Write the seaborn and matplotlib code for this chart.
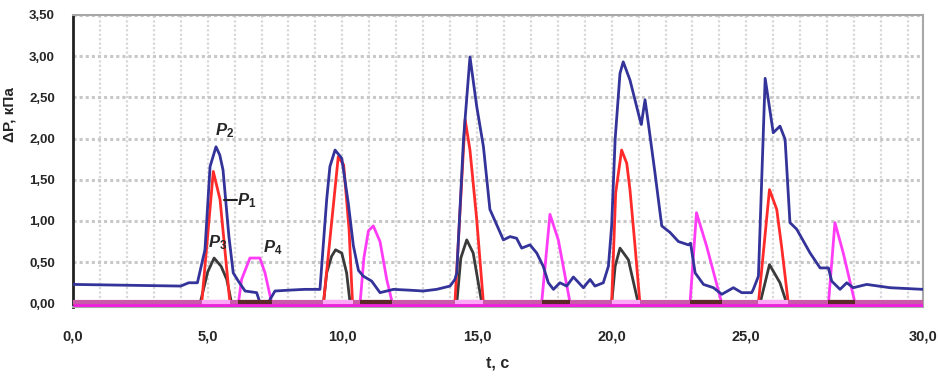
import numpy as np
import pandas as pd
import seaborn as sns
import matplotlib.pyplot as plt
from matplotlib.ticker import FuncFormatter

# time axis end (the last category, labelled "30,0" in the source chart)
XMAX = 31.56

# P2 - blue
t_p2 = [0, 2.0, 4.0, 4.3, 4.62, 4.9, 5.09, 5.31, 5.45, 5.57, 5.79, 5.95, 6.14, 6.39, 6.82, 6.94,
        7.25, 7.5, 8.0, 8.6, 9.17, 9.42, 9.54, 9.73, 9.98, 10.22, 10.41, 10.6, 10.78, 11.09, 11.4,
        11.9, 12.5, 13.0, 13.5, 14.0, 14.18, 14.25, 14.5, 14.74, 14.99, 15.24, 15.48, 15.67,
        15.98, 16.23, 16.47, 16.66, 16.97, 17.22, 17.46, 17.65, 17.84, 18.08, 18.33, 18.58,
        18.95, 19.2, 19.38, 19.69, 19.88, 20.0, 20.13, 20.31, 20.43, 20.68, 21.05, 21.1, 21.24,
        21.36, 21.61, 21.86, 22.17, 22.48, 22.85, 22.93, 23.1, 23.41, 23.78, 24.09, 24.52,
        24.83, 25.2, 25.26, 25.45, 25.7, 26.0, 26.25, 26.44, 26.62, 26.87, 27.37, 27.74,
        28.05, 28.17, 28.48, 28.73, 28.97, 29.47, 30.34, XMAX]
v_p2 = [0.23, 0.22, 0.21, 0.25, 0.25, 0.65, 1.66, 1.90, 1.80, 1.62, 0.81, 0.37, 0.27, 0.15, 0.13, 0.01,
        0.01, 0.15, 0.16, 0.17, 0.17, 1.26, 1.66, 1.86, 1.76, 1.22, 0.70, 0.40, 0.33, 0.27, 0.13,
        0.17, 0.16, 0.15, 0.17, 0.21, 0.29, 0.37, 1.99, 2.99, 2.39, 1.90, 1.14, 1.00,
        0.77, 0.81, 0.79, 0.67, 0.71, 0.61, 0.45, 0.25, 0.17, 0.25, 0.21, 0.32,
        0.19, 0.29, 0.21, 0.25, 0.45, 0.94, 1.99, 2.79, 2.93, 2.71, 2.23, 2.17, 2.47,
        2.19, 1.58, 0.94, 0.86, 0.75, 0.71, 0.73, 0.37, 0.23, 0.19, 0.11, 0.19,
        0.13, 0.13, 0.17, 0.33, 2.73, 2.07, 2.15, 1.99, 0.98, 0.90, 0.61, 0.43,
        0.43, 0.27, 0.17, 0.25, 0.19, 0.23, 0.19, 0.17]

# P1 - red
t_p1 = [0, 4.78, 5.21, 5.46, 5.64, 5.83, 9.3, 9.85, 10.05, 10.25, 10.38, 14.18, 14.56, 14.74,
        14.99, 15.24, 20.0, 20.15, 20.37, 20.56, 20.68, 20.87, 21.05, 25.45, 25.86, 26.13, 26.31,
        26.56, XMAX]
v_p1 = [0, 0, 1.60, 1.26, 0.65, 0, 0, 1.78, 1.68, 0.90, 0, 0, 2.23, 1.86,
        1.02, 0, 0, 1.34, 1.86, 1.70, 1.38, 0.69, 0, 0, 1.38, 1.14, 0.69,
        0, 0]

# P3 - black
t_p3 = [0, 4.72, 5.0, 5.24, 5.5, 5.71, 5.89, 9.3, 9.42, 9.6, 9.75, 9.98, 10.16, 10.29, 14.25,
        14.4, 14.62, 14.86, 15.18, 20.0, 20.13, 20.31, 20.62, 20.99, 25.51, 25.86, 26.25, 26.5,
        XMAX]
v_p3 = [0, 0, 0.38, 0.55, 0.45, 0.29, 0, 0, 0.37, 0.57, 0.65, 0.61, 0.37, 0, 0,
        0.55, 0.77, 0.61, 0, 0, 0.45, 0.67, 0.53, 0, 0, 0.47, 0.25, 0,
        0]

# P4 - magenta
t_p4 = [0, 6.14, 6.26, 6.57, 6.94, 7.13, 7.38, 10.66, 10.8, 10.97, 11.15, 11.4, 11.65, 11.86,
        17.4, 17.71, 18.02, 18.46, 22.91, 23.15, 23.53, 24.09, 28.05, 28.29, 28.6, 29.04, XMAX]
v_p4 = [0, 0, 0.29, 0.55, 0.55, 0.37, 0, 0, 0.55, 0.88, 0.94, 0.75, 0.29, 0,
        0, 1.08, 0.77, 0, 0, 1.10, 0.69, 0, 0, 0.98, 0.61, 0, 0]

x_ticks = [0, 5, 10, 15, 20, 25, XMAX]
x_labels = ["0,0", "5,0", "10,0", "15,0", "20,0", "25,0", "30,0"]


def spans(t, v):
    # stretches where a series leaves zero
    out = []
    i = 0
    while i < len(v):
        if v[i] > 0:
            j = i
            while j < len(v) and v[j] > 0:
                j += 1
            out.append((t[i - 1], t[j]))
            i = j
        else:
            i += 1
    return out


sns.set_style("white")
plt.rcParams['font.family'] = ['Liberation Sans', 'DejaVu Sans']
plt.rcParams['mathtext.fontset'] = 'custom'
plt.rcParams['mathtext.it'] = 'Liberation Sans:italic:bold'
plt.rcParams['mathtext.rm'] = 'Liberation Sans:bold'

fig, ax = plt.subplots(figsize=(9.38, 3.81), dpi=100)
fig.subplots_adjust(left=0.0778, right=0.984, top=0.961, bottom=0.194)

series = [(t_p4, v_p4, '#ff3cf5'), (t_p3, v_p3, '#3a3a3a'),
          (t_p1, v_p1, '#ff2a2a'), (t_p2, v_p2, '#33339a')]
for t, v, c in series:
    df = pd.DataFrame({'t': t, 'v': v})
    sns.lineplot(data=df, x='t', y='v', ax=ax, color=c, lw=2.0,
                 sort=False, estimator=None, zorder=3)

# zero band along the time axis
ax.hlines(-0.02, 0, XMAX, color='#ee22dd', lw=3.4, zorder=4)
ax.hlines(0.022, 0, XMAX, color='#c85aa8', lw=3.0, zorder=4)
for a, b in spans(t_p1, v_p1):
    ax.hlines(0.022, a, b, color='#ffa8f8', lw=3.0, zorder=5)
for a, b in spans(t_p4, v_p4):
    ax.hlines(0.022, a, b, color='#5c2a28', lw=3.0, zorder=5)

ax.set_xlim(0, XMAX)
ax.set_ylim(-0.045, 3.5)

ax.set_yticks(np.arange(0, 3.51, 0.5))
ax.yaxis.set_major_formatter(FuncFormatter(lambda y, p: f"{y:.2f}".replace('.', ',')))
ax.set_xticks(x_ticks)
ax.set_xticklabels(x_labels)
ax.set_xticks(np.arange(1, 32), minor=True)

ax.yaxis.grid(True, color='#c8c8c8', lw=2.2, ls=(0, (1, 1)))
ax.xaxis.grid(True, which='both', color='#d8d8d8', lw=1.6, ls=(0, (1, 1)))
ax.set_axisbelow(True)

ax.tick_params(axis='y', direction='out', length=4, width=1.5, color='#222222',
               labelsize=9.5, pad=9)
ax.tick_params(axis='x', which='major', direction='out', length=6, width=1.2,
               color='#8a9a8a', labelsize=10.5, pad=10)
ax.tick_params(axis='x', which='minor', length=0)
for lab in ax.get_xticklabels() + ax.get_yticklabels():
    lab.set_fontweight('bold')

ax.spines['left'].set_color('#222222')
ax.spines['left'].set_linewidth(2)
for s in ['top', 'right', 'bottom']:
    ax.spines[s].set_color('#a8a8a8')
    ax.spines[s].set_linewidth(1.5)

ax.set_xlabel('t, с', fontsize=11.5, fontweight='bold', labelpad=9)
ax.set_ylabel('ΔP, кПа', fontsize=11, fontweight='bold')
ax.yaxis.set_label_coords(-0.066, 0.66)

# curve labels
ax.text(5.27, 2.1, r'$P_2$', fontsize=12, ha='left', va='center')
ax.plot([5.6, 6.1], [1.25, 1.25], color='#222222', lw=1.5, zorder=6)
ax.text(6.1, 1.25, r'$P_1$', fontsize=12, ha='left', va='center')
ax.text(5.0, 0.74, r'$P_3$', fontsize=12, ha='left', va='center')
ax.text(7.05, 0.68, r'$P_4$', fontsize=12, ha='left', va='center')

fig.savefig('out.png', dpi=100)
